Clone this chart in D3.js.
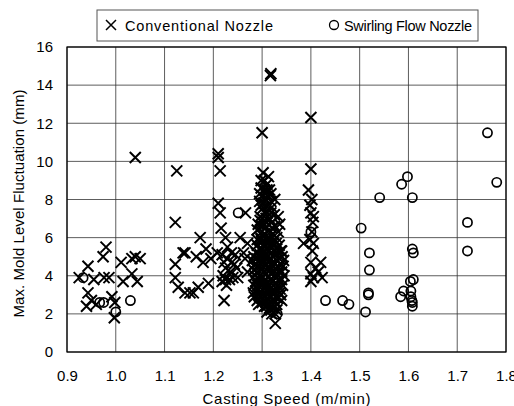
<!DOCTYPE html>
<html>
<head>
<meta charset="utf-8">
<script src="https://cdn.jsdelivr.net/npm/d3@7"></script>
<style>
  body { margin: 0; background: #fff; }
  svg { font-family: "Liberation Sans", Arial, sans-serif; }
</style>
</head>
<body>
<div id="chartContainer"></div>
<script>
// casting speed (m/min), max mold level fluctuation (mm)
const conventional = [
  [0.925, 3.9], [0.943, 4.5], [0.955, 3.8], [0.974, 5.0], [0.98, 5.5], [0.976, 3.9], [0.986, 3.9],
  [0.943, 3.1], [0.95, 2.7], [0.94, 2.4], [0.96, 2.5], [0.992, 2.9], [0.998, 2.6], [0.997, 1.8],
  [1.011, 4.7], [1.015, 3.7], [1.033, 4.9], [1.04, 5.0], [1.05, 4.9], [1.033, 4.1], [1.044, 3.7],
  [1.04, 10.2],
  [1.125, 9.5], [1.122, 6.8], [1.138, 5.2], [1.122, 4.6], [1.122, 3.9], [1.128, 3.4], [1.142, 3.1],
  [1.152, 3.1], [1.159, 3.1], [1.169, 3.4], [1.142, 5.2], [1.165, 5.0], [1.173, 6.0], [1.179, 4.7],
  [1.185, 5.4], [1.195, 4.9], [1.19, 3.6],
  [1.21, 10.4], [1.21, 10.2], [1.214, 9.5], [1.21, 7.8], [1.214, 7.3], [1.216, 6.5], [1.225, 6.0],
  [1.229, 5.5], [1.208, 5.2], [1.218, 5.1], [1.228, 4.9], [1.222, 4.7], [1.225, 4.4], [1.22, 4.0],
  [1.225, 3.8], [1.218, 3.7], [1.227, 3.5], [1.222, 2.7], [1.245, 5.1], [1.255, 6.0], [1.27, 5.7],
  [1.238, 4.7], [1.243, 4.6], [1.248, 4.4], [1.235, 4.2], [1.24, 3.9], [1.233, 3.8], [1.28, 4.8],
  [1.25, 3.9], [1.237, 5.2], [1.262, 5.2], [1.266, 7.3], [1.265, 4.9], [1.27, 4.2],
  [1.317, 14.5], [1.318, 14.6], [1.30, 11.5],
  [1.302, 9.4], [1.305, 9.0], [1.31, 8.8], [1.298, 8.6], [1.315, 8.5], [1.30, 8.2], [1.308, 8.0],
  [1.318, 8.3], [1.295, 7.9], [1.312, 7.7], [1.30, 7.5], [1.32, 7.6], [1.305, 7.3], [1.296, 7.1],
  [1.315, 7.0], [1.325, 7.2], [1.333, 7.1], [1.31, 6.8], [1.30, 6.6], [1.32, 6.5], [1.29, 6.4],
  [1.333, 6.3], [1.305, 6.2], [1.315, 6.0], [1.298, 5.9], [1.325, 5.9], [1.31, 5.7], [1.29, 5.6],
  [1.32, 5.5], [1.335, 5.6], [1.30, 5.4], [1.313, 5.3], [1.327, 5.2], [1.288, 5.2], [1.341, 5.0],
  [1.305, 5.0], [1.318, 4.9], [1.295, 4.8], [1.33, 4.8], [1.31, 4.6], [1.285, 4.6], [1.322, 4.5],
  [1.343, 4.5], [1.30, 4.4], [1.315, 4.3], [1.335, 4.2], [1.29, 4.2], [1.308, 4.1], [1.325, 4.0],
  [1.298, 3.9], [1.318, 3.8], [1.34, 3.8], [1.287, 3.7], [1.31, 3.6], [1.328, 3.6], [1.30, 3.5],
  [1.32, 3.4], [1.293, 3.3], [1.337, 3.3], [1.312, 3.2], [1.282, 3.1], [1.325, 3.1], [1.30, 3.0],
  [1.318, 2.9], [1.29, 2.7], [1.332, 2.8], [1.308, 2.6], [1.323, 2.5], [1.315, 2.3], [1.33, 2.2],
  [1.32, 2.0], [1.327, 1.5], [1.296, 6.9], [1.302, 6.1], [1.322, 6.2], [1.306, 5.5], [1.296, 5.1],
  [1.325, 4.7], [1.312, 4.4], [1.303, 4.7], [1.318, 4.1], [1.306, 3.8], [1.295, 3.6], [1.316, 3.3],
  [1.328, 3.9], [1.31, 3.0], [1.30, 2.8], [1.325, 2.7], [1.338, 3.0], [1.313, 5.9], [1.32, 5.2],
  [1.33, 5.4], [1.29, 5.9], [1.303, 7.8], [1.318, 7.9], [1.31, 8.5], [1.313, 9.2], [1.305, 8.5],
  [1.295, 8.3], [1.308, 7.0], [1.32, 6.8], [1.33, 6.0], [1.30, 5.8], [1.292, 4.5], [1.285, 4.0],
  [1.298, 4.3], [1.335, 4.9], [1.34, 4.2], [1.31, 5.0], [1.322, 3.7], [1.333, 3.5], [1.296, 3.1],
  [1.318, 2.6], [1.305, 2.4], [1.31, 2.1], [1.322, 2.3],
  [1.292, 6.7], [1.299, 6.3], [1.307, 6.5], [1.317, 6.3], [1.326, 6.6], [1.336, 6.7], [1.294, 5.4],
  [1.303, 5.2], [1.311, 5.4], [1.323, 5.7], [1.338, 5.3], [1.344, 4.8], [1.289, 4.9], [1.3, 4.9],
  [1.314, 4.8], [1.327, 4.4], [1.338, 4.6], [1.283, 4.3], [1.304, 4.2], [1.321, 4.2], [1.331, 4.1],
  [1.345, 4.0], [1.291, 3.9], [1.313, 3.9], [1.335, 3.8], [1.283, 3.5], [1.303, 3.7], [1.323, 3.5],
  [1.342, 3.5], [1.287, 3.2], [1.305, 3.3], [1.33, 3.3], [1.284, 2.9], [1.295, 2.9], [1.313, 2.8],
  [1.327, 2.9], [1.34, 2.7], [1.293, 2.5], [1.3, 2.6], [1.313, 2.5], [1.33, 2.5], [1.327, 2.0],
  [1.318, 2.2], [1.3, 7.0], [1.311, 7.3], [1.318, 7.3], [1.298, 7.7], [1.306, 8.3], [1.298, 9.0],
  [1.312, 8.2], [1.326, 8.0], [1.297, 6.0], [1.308, 5.9], [1.329, 5.7], [1.288, 4.4], [1.297, 4.6],
  [1.317, 4.6], [1.309, 3.4], [1.324, 3.2], [1.292, 3.0], [1.336, 3.1], [1.309, 2.4], [1.283, 5.0],
  [1.34, 5.3], [1.334, 4.4], [1.302, 3.9], [1.316, 5.6], [1.301, 6.8], [1.323, 5.0], [1.291, 3.5],
  [1.40, 12.3], [1.40, 9.6], [1.395, 8.5], [1.402, 8.0], [1.40, 7.3], [1.405, 7.1], [1.402, 6.3],
  [1.385, 5.7], [1.405, 5.7], [1.40, 4.7], [1.42, 4.7], [1.40, 4.1], [1.423, 3.9], [1.40, 3.7],
  [1.398, 7.7], [1.404, 6.8], [1.398, 5.9], [1.403, 5.3], [1.41, 4.4], [1.405, 3.9], [1.415, 4.2]
];
const swirling = [
  [0.933, 3.9], [0.967, 2.6], [0.975, 2.6], [1.0, 2.1], [1.03, 2.7], [1.251, 7.3], [1.331, 2.0],
  [1.40, 6.3], [1.43, 2.7], [1.465, 2.7], [1.478, 2.5], [1.503, 6.5], [1.512, 2.1], [1.52, 5.2],
  [1.52, 4.3], [1.518, 3.1], [1.518, 3.0], [1.541, 8.1], [1.586, 8.8], [1.598, 9.2], [1.608, 8.1],
  [1.608, 5.4], [1.61, 5.2], [1.61, 3.8], [1.604, 3.7], [1.59, 3.2], [1.584, 2.9], [1.605, 3.2],
  [1.605, 2.9], [1.607, 2.7], [1.608, 2.6], [1.608, 2.4], [1.721, 6.8], [1.721, 5.3], [1.762, 11.5],
  [1.781, 8.9]
];
const xTicks = [0.9, 1.0, 1.1, 1.2, 1.3, 1.4, 1.5, 1.6, 1.7, 1.8];
const yTicks = [0, 2, 4, 6, 8, 10, 12, 14, 16];

const W = 514, H = 406;
const margin = { top: 47, right: 8, bottom: 54, left: 67 };
const width = W - margin.left - margin.right;
const height = H - margin.top - margin.bottom;

const svg = d3.select("#chartContainer").append("svg")
    .attr("width", W).attr("height", H);

const g = svg.append("g")
    .attr("transform", `translate(${margin.left},${margin.top})`);

const xScale = d3.scaleLinear().domain([0.9, 1.8]).range([0, width]);
const yScale = d3.scaleLinear().domain([0, 16]).range([height, 0]);

// grid
g.append("g").selectAll("line").data(xTicks).join("line")
    .attr("x1", d => xScale(d)).attr("x2", d => xScale(d))
    .attr("y1", 0).attr("y2", height)
    .attr("stroke", "#333").attr("stroke-width", 0.8);
g.append("g").selectAll("line").data(yTicks).join("line")
    .attr("x1", 0).attr("x2", width)
    .attr("y1", d => yScale(d)).attr("y2", d => yScale(d))
    .attr("stroke", "#333").attr("stroke-width", 0.8);
g.append("rect").attr("width", width).attr("height", height)
    .attr("fill", "none").attr("stroke", "#000").attr("stroke-width", 1.2);

// axes
const xAxis = g.append("g").attr("transform", `translate(0,${height})`)
    .call(d3.axisBottom(xScale).tickValues(xTicks).tickFormat(d3.format(".1f")).tickSize(0).tickPadding(18));
const yAxis = g.append("g")
    .call(d3.axisLeft(yScale).tickValues(yTicks).tickSize(0).tickPadding(14));
[xAxis, yAxis].forEach(a => {
  a.select(".domain").remove();
  a.selectAll("text").style("font-size", "15px").attr("fill", "#000");
});

// conventional nozzle: x marks
const s = 5.5;
g.append("g").selectAll("path").data(conventional).join("path")
    .attr("transform", d => `translate(${xScale(d[0])},${yScale(d[1])})`)
    .attr("d", `M${-s},${-s}L${s},${s}M${-s},${s}L${s},${-s}`)
    .attr("stroke", "#000").attr("stroke-width", 2).attr("fill", "none");

// swirling flow nozzle: circles
g.append("g").selectAll("circle").data(swirling).join("circle")
    .attr("cx", d => xScale(d[0])).attr("cy", d => yScale(d[1]))
    .attr("r", 4.6)
    .attr("fill", "none").attr("stroke", "#000").attr("stroke-width", 1.7);

// axis titles
svg.append("text")
    .attr("x", margin.left + width / 2).attr("y", 404)
    .attr("text-anchor", "middle").style("font-size", "15px")
    .attr("textLength", 168).attr("lengthAdjust", "spacing")
    .text("Casting Speed (m/min)");
svg.append("text")
    .attr("transform", `translate(24,${margin.top + height / 2 + 4}) rotate(-90)`)
    .attr("text-anchor", "middle").style("font-size", "15px")
    .attr("textLength", 228).attr("lengthAdjust", "spacing")
    .text("Max. Mold Level Fluctuation (mm)");

// legend
const legend = svg.append("g");
legend.append("rect").attr("x", 97).attr("y", 10).attr("width", 381).attr("height", 31)
    .attr("fill", "#fff").attr("stroke", "#555").attr("stroke-width", 1);
legend.append("path")
    .attr("d", `M106,20L116,30M106,30L116,20`)
    .attr("stroke", "#000").attr("stroke-width", 1.5);
legend.append("text").attr("x", 125).attr("y", 31).style("font-size", "14.5px")
    .attr("textLength", 148).attr("lengthAdjust", "spacing").text("Conventional Nozzle");
legend.append("circle").attr("cx", 334).attr("cy", 25).attr("r", 4.5)
    .attr("fill", "none").attr("stroke", "#000").attr("stroke-width", 1.3);
legend.append("text").attr("x", 344).attr("y", 31).style("font-size", "14.5px")
    .attr("textLength", 128).attr("lengthAdjust", "spacing").text("Swirling Flow Nozzle");
</script>
</body>
</html>
